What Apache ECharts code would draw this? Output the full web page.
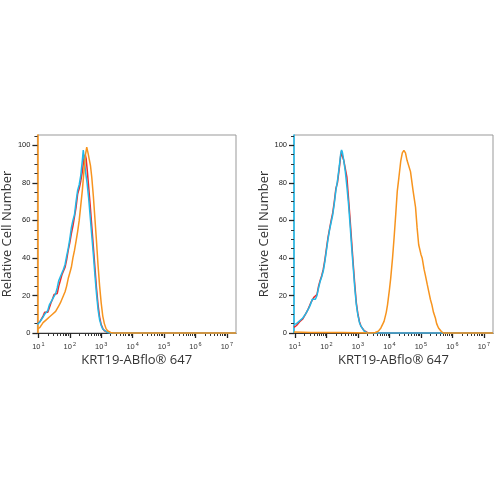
<!DOCTYPE html>
<html>
<head>
<meta charset="utf-8">
<script src="https://cdn.jsdelivr.net/npm/echarts@6/dist/echarts.min.js"></script>
<style>
  html, body { margin: 0; padding: 0; background: #fff; }
  #chart { width: 500px; height: 500px; }
</style>
</head>
<body>
<div id="chart"></div>
<script>
// x = log10 of fluorescence intensity, y = relative cell number
const leftRed = [[0.97,5],[1.05,6],[1.10,7.5],[1.15,9],[1.20,11],[1.25,11.5],[1.30,11],[1.35,13.5],[1.40,16],[1.45,18],[1.50,20.5],[1.55,20],[1.60,21],[1.65,25],[1.70,28],[1.75,31],[1.80,33],[1.85,35],[1.90,39],[1.95,44],[2.00,48],[2.05,53],[2.10,57],[2.15,62],[2.20,67],[2.25,74],[2.30,77],[2.35,81],[2.40,86],[2.45,93],[2.49,95],[2.52,93],[2.56,86],[2.60,78],[2.65,68],[2.70,57],[2.75,46],[2.80,35],[2.85,24],[2.90,15],[2.95,8.5],[3.00,4.5],[3.05,2.5],[3.10,1.2],[3.20,0.4],[3.30,0],[7.29,0]];
const leftCyan = [[0.97,4.5],[1.05,6],[1.10,7],[1.15,8.5],[1.20,10],[1.25,10.5],[1.30,12],[1.35,15],[1.40,16.5],[1.45,18],[1.50,19.5],[1.55,21],[1.60,24],[1.65,28],[1.70,30],[1.75,32],[1.80,34],[1.85,36.5],[1.90,41],[1.95,45],[2.00,50],[2.05,56],[2.10,60],[2.15,63],[2.20,70],[2.25,76],[2.30,79],[2.35,84],[2.40,92],[2.43,97.5],[2.46,93],[2.50,86],[2.55,80],[2.60,72],[2.65,62],[2.70,52],[2.75,42],[2.80,31],[2.85,21],[2.90,12.5],[2.95,7],[3.00,4],[3.05,2],[3.10,1],[3.20,0.3],[3.30,0],[7.29,0]];
const leftOrange = [[0.97,2],[1.05,3],[1.10,4],[1.15,5.5],[1.20,6.5],[1.25,7],[1.30,7.5],[1.35,8.5],[1.40,9.5],[1.45,10],[1.50,10.5],[1.55,11.5],[1.60,13],[1.65,14.5],[1.70,16],[1.75,18],[1.80,20],[1.85,22],[1.90,25],[1.95,29],[2.00,32],[2.05,35],[2.10,40],[2.15,44],[2.20,49],[2.25,54],[2.30,60],[2.35,68],[2.40,76],[2.45,86],[2.50,95],[2.54,99],[2.58,96],[2.62,95],[2.66,89],[2.70,83],[2.75,73],[2.80,61],[2.85,49],[2.90,36],[2.95,25],[3.00,16],[3.05,9],[3.10,5],[3.15,2.5],[3.20,1.2],[3.30,0.3],[3.40,0],[7.29,0]];

const rightRed = [[0.97,3],[1.05,4],[1.10,5],[1.15,6],[1.20,6.5],[1.25,7.5],[1.30,9],[1.35,10.5],[1.40,12],[1.45,14],[1.50,16],[1.55,17.5],[1.60,19],[1.65,18.5],[1.70,20.5],[1.75,25],[1.80,28],[1.85,30.5],[1.90,34],[1.95,39],[2.00,45],[2.05,51],[2.10,55.5],[2.15,60],[2.20,64],[2.25,70],[2.30,77],[2.35,80],[2.38,79],[2.41,88],[2.45,94],[2.48,97],[2.51,94],[2.55,92],[2.60,91],[2.65,83],[2.70,72],[2.75,61],[2.80,49],[2.85,37],[2.90,26],[2.95,16],[3.00,10],[3.05,6],[3.10,3.5],[3.20,1.2],[3.30,0.3],[3.40,0],[7.29,0]];
const rightCyan = [[0.97,4.5],[1.05,5],[1.10,5.5],[1.15,6.5],[1.20,7],[1.25,8],[1.30,9],[1.35,10.5],[1.40,12],[1.45,13.5],[1.50,15.5],[1.55,18],[1.60,18.5],[1.65,18],[1.70,20],[1.75,24],[1.80,27.5],[1.85,30],[1.90,33],[1.95,38],[2.00,44],[2.05,50],[2.10,55],[2.15,59],[2.20,63],[2.25,69],[2.30,76],[2.35,81],[2.38,81],[2.41,89],[2.45,95],[2.48,97.5],[2.51,96],[2.55,92],[2.60,86],[2.65,78],[2.70,69],[2.75,58],[2.80,46],[2.85,35],[2.90,24],[2.95,15],[3.00,9.5],[3.05,5.5],[3.10,3.5],[3.20,1],[3.30,0],[7.29,0]];
const rightOrange = [[0.97,0.5],[1.50,0.3],[2.50,0.2],[3.40,0],[3.55,0.3],[3.65,1],[3.73,2.7],[3.83,6.2],[3.90,11],[3.94,15],[4.00,23],[4.04,29],[4.10,40],[4.15,51],[4.20,63],[4.25,75.6],[4.30,82.7],[4.36,91.6],[4.41,96],[4.46,97.3],[4.51,96],[4.56,92],[4.62,91.6],[4.67,86],[4.75,76],[4.83,67],[4.88,56],[4.93,47],[5.00,42],[5.04,40],[5.10,34],[5.14,31],[5.20,26],[5.25,22],[5.30,18],[5.35,15],[5.40,11],[5.46,8],[5.50,5],[5.56,2.7],[5.65,0.8],[5.72,0],[7.29,0]];

const decades = [1, 2, 3, 4, 5, 6, 7];
const yLabels = [0, 20, 40, 60, 80, 100];
const xName = 'KRT19-ABflo® 647';
const yName = 'Relative Cell Number';

const xMin = 0.97, xMax = 7.29, yMax = 105.5;
const RED = '#ee2b2b', CYAN = '#22b8e8', ORANGE = '#f7941e';

// minor log ticks at 2..9 x 10^n
const xMinor = [];
for (let n = 0; n <= 7; n++) {
    for (let k = 2; k <= 9; k++) {
        const v = n + Math.log10(k);
        if (v > xMin && v < xMax) xMinor.push(v);
    }
}
const yMinor = [];
for (let v = 5; v < yMax; v += 5) {
    if (v % 20 !== 0) yMinor.push(v);
}

const font = 'Liberation Sans';
const grids = [
    { left: 35, top: 135, width: 201, height: 198 },
    { left: 294, top: 135, width: 199, height: 198 }
];
const yLineColors = [ORANGE, CYAN];
const panels = [[leftRed, leftCyan, leftOrange], [rightRed, rightCyan, rightOrange]];

const xAxis = [], yAxis = [], series = [];
grids.forEach((g, i) => {
    xAxis.push({
        gridIndex: i, type: 'value', min: xMin, max: xMax, position: 'bottom', z: 3,
        axisLine: { onZero: false, lineStyle: { color: '#333', width: 1.2 } },
        axisTick: { customValues: decades, length: 5, lineStyle: { color: '#222', width: 1.3 } },
        axisLabel: {
            customValues: decades, margin: 8,
            formatter: v => '{b|10}{s|' + v + '}',
            rich: {
                b: { fontSize: 7.5, color: '#333', fontFamily: font },
                s: { fontSize: 5.5, color: '#333', fontFamily: font, padding: [0, 0, 6, 1] }
            }
        },
        splitLine: { show: false },
        name: xName, nameLocation: 'middle', nameGap: 21,
        nameTextStyle: { fontSize: 13, color: '#333', fontFamily: 'Open Sans' }
    });
    xAxis.push({
        gridIndex: i, type: 'value', min: xMin, max: xMax, position: 'bottom', z: 3,
        axisLine: { show: false },
        axisTick: { customValues: xMinor, length: 3, lineStyle: { color: '#333' } },
        axisLabel: { show: false },
        splitLine: { show: false }
    });
    yAxis.push({
        gridIndex: i, type: 'value', min: 0, max: yMax, position: 'left',
        axisLine: { show: true, lineStyle: { color: yLineColors[i], width: 1.6 } },
        axisTick: { customValues: yLabels, length: 5, lineStyle: { color: '#222', width: 1.3 } },
        axisLabel: { customValues: yLabels, margin: 7, fontSize: 7.5, color: '#222', fontFamily: font },
        splitLine: { show: false },
        name: yName, nameLocation: 'middle', nameGap: 21,
        nameTextStyle: { fontSize: 13, color: '#333', fontFamily: 'Open Sans' }
    });
    yAxis.push({
        gridIndex: i, type: 'value', min: 0, max: yMax, position: 'left',
        axisLine: { show: false },
        axisTick: { customValues: yMinor, length: 3, lineStyle: { color: '#333' } },
        axisLabel: { show: false },
        splitLine: { show: false }
    });
    const colors = [RED, CYAN, ORANGE];
    panels[i].forEach((d, j) => {
        series.push({
            type: 'line', xAxisIndex: i * 2, yAxisIndex: i * 2,
            data: d, showSymbol: false, symbol: 'none', clip: false,
            lineStyle: { color: colors[j], width: 1.5 }
        });
    });
});

const chart = echarts.init(document.getElementById('chart'));
chart.setOption({
    backgroundColor: '#fff',
    animation: false,
    grid: grids.map(g => Object.assign({ show: true, borderColor: '#999', borderWidth: 1 }, g)),
    xAxis: xAxis,
    yAxis: yAxis,
    series: series
});
</script>
</body>
</html>
